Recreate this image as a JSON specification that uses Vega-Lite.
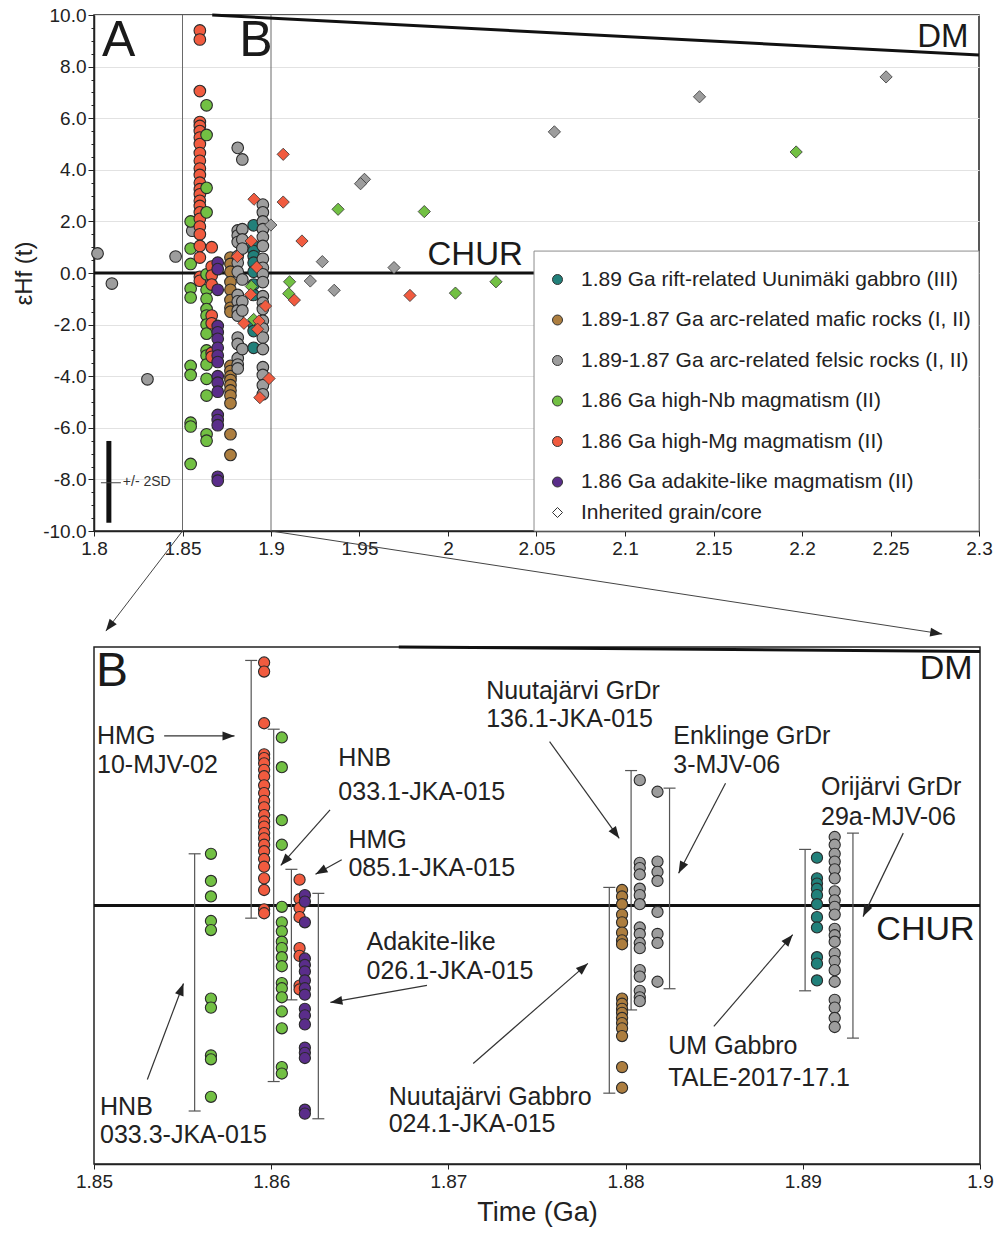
{
  "$schema": "https://vega.github.io/schema/vega-lite/v6.json",
  "padding": {"left": 11, "top": 5, "right": 5, "bottom": 5},
  "config": {
    "font": "Liberation Sans",
    "view": {"stroke": "#222", "strokeWidth": 1.5},
    "axis": {"domainColor": "#222", "domainWidth": 1.5, "tickColor": "#222", "labelColor": "#222", "titleColor": "#222", "titleFontWeight": "normal", "gridColor": "#e2e2e2", "labelFlush": false, "labelOverlap": false},
    "legend": {"symbolBaseFillColor": "white"}
  },
  "datasets": {
    "pos": [
      {"s": "s1", "g": "1.86 Ga high-Nb magmatism (II)", "xa": 1.8546, "xb": 1.8566},
      {"s": "s2", "g": "1.86 Ga high-Mg magmatism (II)", "xa": 1.8598, "xb": 1.8596},
      {"s": "s3", "g": "1.86 Ga high-Nb magmatism (II)", "xa": 1.8636, "xb": 1.8606},
      {"s": "s4", "g": "1.86 Ga high-Mg magmatism (II)", "xa": 1.8665, "xb": 1.8616},
      {"s": "s5", "g": "1.86 Ga adakite-like magmatism (II)", "xa": 1.8699, "xb": 1.8619},
      {"s": "s6", "g": "1.89-1.87 Ga arc-related mafic rocks (I, II)", "xa": 1.8771, "xb": 1.8798},
      {"s": "s7", "g": "1.89-1.87 Ga arc-related felsic rocks (I, II)", "xa": 1.8812, "xb": 1.8808},
      {"s": "s8", "g": "1.89-1.87 Ga arc-related felsic rocks (I, II)", "xa": 1.8838, "xb": 1.8818},
      {"s": "s9", "g": "1.89 Ga rift-related Uunimäki gabbro (III)", "xa": 1.8902, "xb": 1.8908},
      {"s": "s10", "g": "1.89-1.87 Ga arc-related felsic rocks (I, II)", "xa": 1.8954, "xb": 1.8918}
    ],
    "hf": [
      {"s": "s1", "y": 2.0}, {"s": "s1", "y": 0.95}, {"s": "s1", "y": 0.35}, {"s": "s1", "y": -0.6}, {"s": "s1", "y": -0.95}, {"s": "s1", "y": -3.6}, {"s": "s1", "y": -3.95}, {"s": "s1", "y": -5.8}, {"s": "s1", "y": -5.95}, {"s": "s1", "y": -7.4},
      {"s": "s2", "y": 9.4}, {"s": "s2", "y": 9.05}, {"s": "s2", "y": 7.05}, {"s": "s2", "y": 5.85}, {"s": "s2", "y": 5.7}, {"s": "s2", "y": 5.5}, {"s": "s2", "y": 5.25}, {"s": "s2", "y": 5.0}, {"s": "s2", "y": 4.65}, {"s": "s2", "y": 4.35}, {"s": "s2", "y": 4.05}, {"s": "s2", "y": 3.8}, {"s": "s2", "y": 3.5}, {"s": "s2", "y": 3.25}, {"s": "s2", "y": 3.05}, {"s": "s2", "y": 2.8}, {"s": "s2", "y": 2.6}, {"s": "s2", "y": 2.35}, {"s": "s2", "y": 2.1}, {"s": "s2", "y": 1.8}, {"s": "s2", "y": 1.5}, {"s": "s2", "y": 1.05}, {"s": "s2", "y": 0.6}, {"s": "s2", "y": -0.15}, {"s": "s2", "y": -0.3},
      {"s": "s3", "y": 6.5}, {"s": "s3", "y": 5.35}, {"s": "s3", "y": 3.3}, {"s": "s3", "y": 2.35}, {"s": "s3", "y": -0.05}, {"s": "s3", "y": -0.65}, {"s": "s3", "y": -1.0}, {"s": "s3", "y": -1.4}, {"s": "s3", "y": -1.65}, {"s": "s3", "y": -2.0}, {"s": "s3", "y": -2.35}, {"s": "s3", "y": -3.0}, {"s": "s3", "y": -3.2}, {"s": "s3", "y": -3.55}, {"s": "s3", "y": -4.1}, {"s": "s3", "y": -4.75}, {"s": "s3", "y": -6.25}, {"s": "s3", "y": -6.5},
      {"s": "s4", "y": 1.0}, {"s": "s4", "y": 0.25}, {"s": "s4", "y": -0.1}, {"s": "s4", "y": -0.45}, {"s": "s4", "y": -1.65}, {"s": "s4", "y": -1.95}, {"s": "s4", "y": -3.1}, {"s": "s4", "y": -3.25},
      {"s": "s5", "y": 0.4}, {"s": "s5", "y": 0.15}, {"s": "s5", "y": -0.65}, {"s": "s5", "y": -2.05}, {"s": "s5", "y": -2.3}, {"s": "s5", "y": -2.55}, {"s": "s5", "y": -2.9}, {"s": "s5", "y": -3.2}, {"s": "s5", "y": -3.45}, {"s": "s5", "y": -4.0}, {"s": "s5", "y": -4.25}, {"s": "s5", "y": -4.6}, {"s": "s5", "y": -5.5}, {"s": "s5", "y": -5.7}, {"s": "s5", "y": -5.9}, {"s": "s5", "y": -7.9}, {"s": "s5", "y": -8.05},
      {"s": "s6", "y": 0.6}, {"s": "s6", "y": 0.35}, {"s": "s6", "y": 0.05}, {"s": "s6", "y": -0.35}, {"s": "s6", "y": -0.65}, {"s": "s6", "y": -1.05}, {"s": "s6", "y": -1.35}, {"s": "s6", "y": -1.5}, {"s": "s6", "y": -3.6}, {"s": "s6", "y": -3.8}, {"s": "s6", "y": -4.0}, {"s": "s6", "y": -4.15}, {"s": "s6", "y": -4.35}, {"s": "s6", "y": -4.55}, {"s": "s6", "y": -4.75}, {"s": "s6", "y": -5.05}, {"s": "s6", "y": -6.25}, {"s": "s6", "y": -7.05},
      {"s": "s7", "y": 4.85}, {"s": "s7", "y": 1.65}, {"s": "s7", "y": 1.45}, {"s": "s7", "y": 1.2}, {"s": "s7", "y": 0.65}, {"s": "s7", "y": 0.4}, {"s": "s7", "y": 0.05}, {"s": "s7", "y": -0.85}, {"s": "s7", "y": -1.1}, {"s": "s7", "y": -1.45}, {"s": "s7", "y": -1.65}, {"s": "s7", "y": -2.5}, {"s": "s7", "y": -2.75}, {"s": "s7", "y": -3.3}, {"s": "s7", "y": -3.55}, {"s": "s7", "y": -3.7},
      {"s": "s8", "y": 4.4}, {"s": "s8", "y": 1.7}, {"s": "s8", "y": 1.3}, {"s": "s8", "y": 0.95}, {"s": "s8", "y": -0.25}, {"s": "s8", "y": -1.1}, {"s": "s8", "y": -1.45}, {"s": "s8", "y": -2.95},
      {"s": "s9", "y": 1.85}, {"s": "s9", "y": 1.05}, {"s": "s9", "y": 0.85}, {"s": "s9", "y": 0.65}, {"s": "s9", "y": 0.4}, {"s": "s9", "y": 0.05}, {"s": "s9", "y": -0.45}, {"s": "s9", "y": -0.85}, {"s": "s9", "y": -2.0}, {"s": "s9", "y": -2.25}, {"s": "s9", "y": -2.9},
      {"s": "s10", "y": 2.65}, {"s": "s10", "y": 2.35}, {"s": "s10", "y": 2.0}, {"s": "s10", "y": 1.7}, {"s": "s10", "y": 1.4}, {"s": "s10", "y": 1.05}, {"s": "s10", "y": 0.55}, {"s": "s10", "y": 0.2}, {"s": "s10", "y": -0.05}, {"s": "s10", "y": -0.35}, {"s": "s10", "y": -0.9}, {"s": "s10", "y": -1.15}, {"s": "s10", "y": -1.4}, {"s": "s10", "y": -1.85}, {"s": "s10", "y": -2.15}, {"s": "s10", "y": -2.5}, {"s": "s10", "y": -2.95}, {"s": "s10", "y": -3.65}, {"s": "s10", "y": -3.95}, {"s": "s10", "y": -4.35}, {"s": "s10", "y": -4.7}
    ],
    "extraA": [
      {"x": 1.802, "y": 0.76, "g": "1.89-1.87 Ga arc-related felsic rocks (I, II)"},
      {"x": 1.8101, "y": -0.41, "g": "1.89-1.87 Ga arc-related felsic rocks (I, II)"},
      {"x": 1.8302, "y": -4.12, "g": "1.89-1.87 Ga arc-related felsic rocks (I, II)"},
      {"x": 1.8461, "y": 0.64, "g": "1.89-1.87 Ga arc-related felsic rocks (I, II)"},
      {"x": 1.8555, "y": 1.64, "g": "1.89-1.87 Ga arc-related felsic rocks (I, II)"}
    ],
    "inh": [
      {"x": 2.2475, "y": 7.6, "g": "1.89-1.87 Ga arc-related felsic rocks (I, II)"},
      {"x": 2.1421, "y": 6.83, "g": "1.89-1.87 Ga arc-related felsic rocks (I, II)"},
      {"x": 2.0601, "y": 5.47, "g": "1.89-1.87 Ga arc-related felsic rocks (I, II)"},
      {"x": 1.9528, "y": 3.63, "g": "1.89-1.87 Ga arc-related felsic rocks (I, II)"},
      {"x": 1.9506, "y": 3.46, "g": "1.89-1.87 Ga arc-related felsic rocks (I, II)"},
      {"x": 1.8999, "y": 1.86, "g": "1.89-1.87 Ga arc-related felsic rocks (I, II)"},
      {"x": 1.929, "y": 0.44, "g": "1.89-1.87 Ga arc-related felsic rocks (I, II)"},
      {"x": 1.9695, "y": 0.21, "g": "1.89-1.87 Ga arc-related felsic rocks (I, II)"},
      {"x": 1.9222, "y": -0.31, "g": "1.89-1.87 Ga arc-related felsic rocks (I, II)"},
      {"x": 1.9357, "y": -0.67, "g": "1.89-1.87 Ga arc-related felsic rocks (I, II)"},
      {"x": 2.1967, "y": 4.69, "g": "1.86 Ga high-Nb magmatism (II)"},
      {"x": 1.9379, "y": 2.47, "g": "1.86 Ga high-Nb magmatism (II)"},
      {"x": 1.9866, "y": 2.38, "g": "1.86 Ga high-Nb magmatism (II)"},
      {"x": 2.0271, "y": -0.34, "g": "1.86 Ga high-Nb magmatism (II)"},
      {"x": 2.0042, "y": -0.78, "g": "1.86 Ga high-Nb magmatism (II)"},
      {"x": 1.9105, "y": -0.34, "g": "1.86 Ga high-Nb magmatism (II)"},
      {"x": 1.91, "y": -0.8, "g": "1.86 Ga high-Nb magmatism (II)"},
      {"x": 1.8889, "y": -0.52, "g": "1.86 Ga high-Nb magmatism (II)"},
      {"x": 1.8902, "y": -1.8, "g": "1.86 Ga high-Nb magmatism (II)"},
      {"x": 1.9069, "y": 4.6, "g": "1.86 Ga high-Mg magmatism (II)"},
      {"x": 1.9069, "y": 2.75, "g": "1.86 Ga high-Mg magmatism (II)"},
      {"x": 1.9175, "y": 1.24, "g": "1.86 Ga high-Mg magmatism (II)"},
      {"x": 1.9785, "y": -0.87, "g": "1.86 Ga high-Mg magmatism (II)"},
      {"x": 1.9132, "y": -1.05, "g": "1.86 Ga high-Mg magmatism (II)"},
      {"x": 1.8904, "y": 2.86, "g": "1.86 Ga high-Mg magmatism (II)"},
      {"x": 1.8888, "y": 1.24, "g": "1.86 Ga high-Mg magmatism (II)"},
      {"x": 1.881, "y": 0.64, "g": "1.86 Ga high-Mg magmatism (II)"},
      {"x": 1.8919, "y": 0.23, "g": "1.86 Ga high-Mg magmatism (II)"},
      {"x": 1.8885, "y": -0.83, "g": "1.86 Ga high-Mg magmatism (II)"},
      {"x": 1.8969, "y": -1.28, "g": "1.86 Ga high-Mg magmatism (II)"},
      {"x": 1.8847, "y": -1.95, "g": "1.86 Ga high-Mg magmatism (II)"},
      {"x": 1.8932, "y": -1.86, "g": "1.86 Ga high-Mg magmatism (II)"},
      {"x": 1.8924, "y": -2.18, "g": "1.86 Ga high-Mg magmatism (II)"},
      {"x": 1.8989, "y": -4.09, "g": "1.86 Ga high-Mg magmatism (II)"},
      {"x": 1.8937, "y": -4.83, "g": "1.86 Ga high-Mg magmatism (II)"}
    ],
    "vlines": [{"x": 1.85, "y": -10, "y2": 10}, {"x": 1.9, "y": -10, "y2": 10}],
    "thickA": [{"x": 1.8, "y": 0, "x2": 2.3, "y2": 0}, {"x": 1.8668, "y": 10, "x2": 2.3, "y2": 8.45}],
    "box": [{"x": 2.0486, "y": 0.85, "x2": 2.3, "y2": -10}],
    "sdbar": [{"x": 1.8084, "y": -6.51, "y2": -9.68}],
    "thinA": [
      {"x": 1.8039, "y": -8.13, "x2": 1.8152, "y2": -8.13},
      {"x": 1.85, "y": -10, "x2": 1.8067, "y2": -13.88},
      {"x": 1.9, "y": -10, "x2": 2.2792, "y2": -13.99}
    ],
    "headA": [{"id": "h1", "x": 1.8067, "y": -13.88}, {"id": "h2", "x": 2.2792, "y": -13.99}],
    "txtA": [
      {"c": "big", "t": "A", "x": 1.8045, "y": 8.99},
      {"c": "big", "t": "B", "x": 1.8821, "y": 8.99},
      {"c": "mid", "t": "DM", "x": 2.2651, "y": 9.15},
      {"c": "mid", "t": "CHUR", "x": 1.9884, "y": 0.7},
      {"c": "small", "t": "+/- 2SD", "x": 1.8163, "y": -8.1}
    ],
    "thickB": [{"x": 1.85, "y": 0, "x2": 1.9, "y2": 0}, {"x": 1.8672, "y": 10, "x2": 1.9, "y2": 9.83}],
    "errB": [
      {"x": 1.85568, "y": 2.0, "y2": -7.95},
      {"x": 1.85887, "y": 9.48, "y2": -0.49},
      {"x": 1.86014, "y": 6.82, "y2": -6.81},
      {"x": 1.86114, "y": 1.4, "y2": -3.65},
      {"x": 1.86266, "y": 0.47, "y2": -8.25},
      {"x": 1.87908, "y": 0.7, "y2": -7.26},
      {"x": 1.88031, "y": 5.22, "y2": -4.04},
      {"x": 1.88248, "y": 4.54, "y2": -3.22},
      {"x": 1.89013, "y": 2.17, "y2": -3.3},
      {"x": 1.89283, "y": 2.8, "y2": -5.13}
    ],
    "arrB": [
      {"id": "a1", "x0": 1.85396, "y0": 6.56, "x": 1.85793, "y": 6.56},
      {"id": "a2", "x0": 1.86332, "y0": 3.7, "x": 1.86054, "y": 1.55},
      {"id": "a3", "x0": 1.86398, "y0": 1.77, "x": 1.8625, "y": 1.21},
      {"id": "a4", "x0": 1.86879, "y0": -3.09, "x": 1.86334, "y": -3.75},
      {"id": "a5", "x0": 1.85301, "y0": -6.73, "x": 1.85505, "y": -3.02},
      {"id": "a6", "x0": 1.87571, "y0": 6.34, "x": 1.87964, "y": 2.6},
      {"id": "a7", "x0": 1.88564, "y0": 4.73, "x": 1.88299, "y": 1.25},
      {"id": "a8", "x0": 1.89567, "y0": 2.8, "x": 1.8934, "y": -0.43},
      {"id": "a9", "x0": 1.88498, "y0": -4.68, "x": 1.88943, "y": -1.13},
      {"id": "a10", "x0": 1.8714, "y0": -6.11, "x": 1.87787, "y": -2.24}
    ],
    "txtB": [
      {"c": "big", "t": "B", "x": 1.85011, "y": 9.05},
      {"c": "mid", "t": "DM", "x": 1.8966, "y": 9.13},
      {"c": "mid", "t": "CHUR", "x": 1.89415, "y": -0.93},
      {"c": "note", "t": "HMG", "x": 1.85017, "y": 6.56},
      {"c": "note", "t": "10-MJV-02", "x": 1.85017, "y": 5.42},
      {"c": "note", "t": "HNB", "x": 1.86379, "y": 5.69},
      {"c": "note", "t": "033.1-JKA-015", "x": 1.86379, "y": 4.41},
      {"c": "note", "t": "HMG", "x": 1.86436, "y": 2.55},
      {"c": "note", "t": "085.1-JKA-015", "x": 1.86436, "y": 1.47},
      {"c": "note", "t": "Adakite-like", "x": 1.86538, "y": -1.43},
      {"c": "note", "t": "026.1-JKA-015", "x": 1.86538, "y": -2.55},
      {"c": "note", "t": "HNB", "x": 1.85034, "y": -7.78},
      {"c": "note", "t": "033.3-JKA-015", "x": 1.85034, "y": -8.86},
      {"c": "note", "t": "Nuutajärvi GrDr", "x": 1.87213, "y": 8.28},
      {"c": "note", "t": "136.1-JKA-015", "x": 1.87213, "y": 7.2},
      {"c": "note", "t": "Enklinge GrDr", "x": 1.88269, "y": 6.54},
      {"c": "note", "t": "3-MJV-06", "x": 1.88269, "y": 5.45},
      {"c": "note", "t": "Orijärvi GrDr", "x": 1.89103, "y": 4.6},
      {"c": "note", "t": "29a-MJV-06", "x": 1.89103, "y": 3.44},
      {"c": "note", "t": "UM Gabbro", "x": 1.88241, "y": -5.45},
      {"c": "note", "t": "TALE-2017-17.1", "x": 1.88241, "y": -6.69},
      {"c": "note", "t": "Nuutajärvi Gabbro", "x": 1.86663, "y": -7.39},
      {"c": "note", "t": "024.1-JKA-015", "x": 1.86663, "y": -8.47}
    ]
  },
  "vconcat": [
    {
      "width": 885,
      "height": 516,
      "encoding": {
        "x": {"field": "x", "type": "quantitative", "scale": {"domain": [1.8, 2.3], "nice": false, "zero": false}, "axis": {"values": [1.8, 1.85, 1.9, 1.95, 2, 2.05, 2.1, 2.15, 2.2, 2.25, 2.3], "format": "~g", "title": null, "labelFontSize": 19, "tickSize": 5, "grid": false, "labelPadding": 3}},
        "y": {"field": "y", "type": "quantitative", "scale": {"domain": [-10, 10], "nice": false, "zero": false}, "axis": {"title": "εHf (t)", "titleFontSize": 24, "titlePadding": 6, "labelFontSize": 19, "labelPadding": 2, "values": [-10, -9.5, -9, -8.5, -8, -7.5, -7, -6.5, -6, -5.5, -5, -4.5, -4, -3.5, -3, -2.5, -2, -1.5, -1, -0.5, 0, 0.5, 1, 1.5, 2, 2.5, 3, 3.5, 4, 4.5, 5, 5.5, 6, 6.5, 7, 7.5, 8, 8.5, 9, 9.5, 10], "labelExpr": "datum.value % 2 === 0 ? replace(format(datum.value, '.1f'), '−', '-') : ''", "tickSize": {"condition": {"test": "datum.value % 2 === 0", "value": 6}, "value": 3}, "grid": true, "gridOpacity": {"condition": {"test": "datum.value % 2 === 0", "value": 1}, "value": 0}}}
      },
      "layer": [
        {"data": {"name": "vlines"}, "mark": {"type": "rule", "color": "#6a6a6a", "strokeWidth": 1}, "encoding": {"y2": {"field": "y2"}}},
        {"data": {"name": "thickA"}, "mark": {"type": "rule", "color": "#111", "strokeWidth": 3}, "encoding": {"x2": {"field": "x2"}, "y2": {"field": "y2"}}},
        {"data": {"name": "box"}, "mark": {"type": "rect", "fill": "white", "stroke": "#8c8c8c", "strokeWidth": 1}, "encoding": {"x2": {"field": "x2"}, "y2": {"field": "y2"}}},
        {"data": {"name": "extraA"}, "mark": {"type": "point", "shape": "circle", "filled": true, "size": 135, "stroke": "#2a2a2a", "strokeWidth": 1.1, "opacity": 1},
          "encoding": {"fill": {"field": "g", "type": "nominal", "scale": {"domain": ["1.89 Ga rift-related Uunimäki gabbro (III)", "1.89-1.87 Ga arc-related mafic rocks (I, II)", "1.89-1.87 Ga arc-related felsic rocks (I, II)", "1.86 Ga high-Nb magmatism (II)", "1.86 Ga high-Mg magmatism (II)", "1.86 Ga adakite-like magmatism (II)"], "range": ["#21807a", "#ad7e3f", "#9d9d9d", "#72c043", "#f15b3f", "#5a2d8a"]}, "legend": {"orient": "none", "legendX": 453, "legendY": 254, "title": null, "labelFontSize": 21, "labelColor": "#222", "labelLimit": 600, "symbolType": "circle", "symbolSize": 100, "symbolStrokeColor": "#333", "symbolStrokeWidth": 1, "rowPadding": 18.5, "labelOffset": 13, "padding": 0}}}},
        {"data": {"name": "hf"}, "transform": [{"lookup": "s", "from": {"data": {"name": "pos"}, "key": "s", "fields": ["g", "xa"]}, "as": ["g", "x"]}],
          "mark": {"type": "point", "shape": "circle", "filled": true, "size": 135, "stroke": "#2a2a2a", "strokeWidth": 1.1, "opacity": 1},
          "encoding": {"fill": {"field": "g", "type": "nominal", "scale": {"domain": ["1.89 Ga rift-related Uunimäki gabbro (III)", "1.89-1.87 Ga arc-related mafic rocks (I, II)", "1.89-1.87 Ga arc-related felsic rocks (I, II)", "1.86 Ga high-Nb magmatism (II)", "1.86 Ga high-Mg magmatism (II)", "1.86 Ga adakite-like magmatism (II)"], "range": ["#21807a", "#ad7e3f", "#9d9d9d", "#72c043", "#f15b3f", "#5a2d8a"]}, "legend": {"orient": "none", "legendX": 453, "legendY": 254, "title": null, "labelFontSize": 21, "labelColor": "#222", "labelLimit": 600, "symbolType": "circle", "symbolSize": 100, "symbolStrokeColor": "#333", "symbolStrokeWidth": 1, "rowPadding": 18.5, "labelOffset": 13, "padding": 0}}}},
        {"data": {"name": "inh"}, "mark": {"type": "point", "filled": true, "size": 150, "stroke": "#333", "strokeWidth": 0.8, "opacity": 1},
          "encoding": {
            "fill": {"field": "g", "type": "nominal", "scale": {"domain": ["1.89 Ga rift-related Uunimäki gabbro (III)", "1.89-1.87 Ga arc-related mafic rocks (I, II)", "1.89-1.87 Ga arc-related felsic rocks (I, II)", "1.86 Ga high-Nb magmatism (II)", "1.86 Ga high-Mg magmatism (II)", "1.86 Ga adakite-like magmatism (II)"], "range": ["#21807a", "#ad7e3f", "#9d9d9d", "#72c043", "#f15b3f", "#5a2d8a"]}, "legend": {"orient": "none", "legendX": 453, "legendY": 254, "title": null, "labelFontSize": 21, "labelColor": "#222", "labelLimit": 600, "symbolType": "circle", "symbolSize": 100, "symbolStrokeColor": "#333", "symbolStrokeWidth": 1, "rowPadding": 18.5, "labelOffset": 13, "padding": 0}},
            "shape": {"datum": "Inherited grain/core", "type": "nominal", "scale": {"domain": ["Inherited grain/core"], "range": ["diamond"]}, "legend": {"orient": "none", "legendX": 453, "legendY": 487, "title": null, "labelFontSize": 21, "labelColor": "#222", "labelLimit": 600, "symbolSize": 100, "symbolFillColor": "white", "symbolStrokeColor": "#333", "symbolStrokeWidth": 1, "labelOffset": 13, "padding": 0}}
          }},
        {"data": {"name": "sdbar"}, "mark": {"type": "rule", "color": "#111", "strokeWidth": 5}, "encoding": {"y2": {"field": "y2"}}},
        {"data": {"name": "thinA"}, "mark": {"type": "rule", "color": "#444", "strokeWidth": 1, "clip": false}, "encoding": {"x2": {"field": "x2"}, "y2": {"field": "y2"}}},
        {"data": {"name": "headA"}, "transform": [{"filter": "datum.id === 'h1'"}], "mark": {"type": "point", "shape": "M0,0L-0.375,1L0.375,1Z", "filled": true, "color": "#222", "size": 576, "angle": 217.6, "opacity": 1, "clip": false}},
        {"data": {"name": "headA"}, "transform": [{"filter": "datum.id === 'h2'"}], "mark": {"type": "point", "shape": "M0,0L-0.375,1L0.375,1Z", "filled": true, "color": "#222", "size": 576, "angle": 98.6, "opacity": 1, "clip": false}},
        {"data": {"name": "txtA"}, "transform": [{"filter": "datum.c === 'big'"}], "mark": {"type": "text", "fontSize": 50, "align": "left", "baseline": "middle", "color": "#1a1a1a"}, "encoding": {"text": {"field": "t"}}},
        {"data": {"name": "txtA"}, "transform": [{"filter": "datum.c === 'mid'"}], "mark": {"type": "text", "fontSize": 33, "align": "left", "baseline": "middle", "color": "#1a1a1a"}, "encoding": {"text": {"field": "t"}}},
        {"data": {"name": "txtA"}, "transform": [{"filter": "datum.c === 'small'"}], "mark": {"type": "text", "fontSize": 14, "align": "left", "baseline": "middle", "color": "#333"}, "encoding": {"text": {"field": "t"}}}
      ]
    },
    {
      "width": 886,
      "height": 517,
      "encoding": {
        "x": {"field": "x", "type": "quantitative", "scale": {"domain": [1.85, 1.9], "nice": false, "zero": false}, "axis": {"values": [1.85, 1.86, 1.87, 1.88, 1.89, 1.9], "format": "~g", "title": "Time (Ga)", "titleFontSize": 27, "titlePadding": 8, "labelFontSize": 19, "tickSize": 5, "grid": false, "labelPadding": 3}},
        "y": {"field": "y", "type": "quantitative", "scale": {"domain": [-10, 10], "nice": false, "zero": false}, "axis": {"title": "εHf (t)", "titleFontSize": 24, "titlePadding": 6, "labelFontSize": 19, "labelPadding": 2, "values": [-10, -9.5, -9, -8.5, -8, -7.5, -7, -6.5, -6, -5.5, -5, -4.5, -4, -3.5, -3, -2.5, -2, -1.5, -1, -0.5, 0, 0.5, 1, 1.5, 2, 2.5, 3, 3.5, 4, 4.5, 5, 5.5, 6, 6.5, 7, 7.5, 8, 8.5, 9, 9.5, 10], "labelExpr": "datum.value % 2 === 0 ? replace(format(datum.value, '.1f'), '−', '-') : ''", "tickSize": {"condition": {"test": "datum.value % 2 === 0", "value": 6}, "value": 3}, "grid": true, "gridOpacity": {"condition": {"test": "datum.value % 2 === 0", "value": 1}, "value": 0}}}
      },
      "layer": [
        {"data": {"name": "thickB"}, "mark": {"type": "rule", "color": "#111", "strokeWidth": 3}, "encoding": {"x2": {"field": "x2"}, "y2": {"field": "y2"}}},
        {"data": {"name": "errB"}, "mark": {"type": "rule", "color": "#555", "strokeWidth": 1.2}, "encoding": {"y2": {"field": "y2"}}},
        {"data": {"name": "errB"}, "mark": {"type": "tick", "orient": "horizontal", "size": 12, "thickness": 1.2, "color": "#555", "opacity": 1}},
        {"data": {"name": "errB"}, "mark": {"type": "tick", "orient": "horizontal", "size": 12, "thickness": 1.2, "color": "#555", "opacity": 1}, "encoding": {"y": {"field": "y2", "type": "quantitative", "scale": {"domain": [-10, 10], "nice": false, "zero": false}, "axis": null}}},
        {"data": {"name": "hf"}, "transform": [{"lookup": "s", "from": {"data": {"name": "pos"}, "key": "s", "fields": ["g", "xb"]}, "as": ["g", "x"]}],
          "mark": {"type": "point", "shape": "circle", "filled": true, "size": 125, "stroke": "#2a2a2a", "strokeWidth": 1.1, "opacity": 1},
          "encoding": {"fill": {"field": "g", "type": "nominal", "scale": {"domain": ["1.89 Ga rift-related Uunimäki gabbro (III)", "1.89-1.87 Ga arc-related mafic rocks (I, II)", "1.89-1.87 Ga arc-related felsic rocks (I, II)", "1.86 Ga high-Nb magmatism (II)", "1.86 Ga high-Mg magmatism (II)", "1.86 Ga adakite-like magmatism (II)"], "range": ["#21807a", "#ad7e3f", "#9d9d9d", "#72c043", "#f15b3f", "#5a2d8a"]}, "legend": null}}},
        {"data": {"name": "arrB"}, "mark": {"type": "rule", "color": "#333", "strokeWidth": 1.2}, "encoding": {"x2": {"field": "x0"}, "y2": {"field": "y0"}}},
        {"data": {"name": "arrB"}, "transform": [{"filter": "datum.id === 'a1'"}], "mark": {"type": "point", "shape": "M0,0L-0.375,1L0.375,1Z", "filled": true, "color": "#222", "size": 576, "angle": 90, "opacity": 1}},
        {"data": {"name": "arrB"}, "transform": [{"filter": "datum.id === 'a2'"}], "mark": {"type": "point", "shape": "M0,0L-0.375,1L0.375,1Z", "filled": true, "color": "#222", "size": 576, "angle": 221.3, "opacity": 1}},
        {"data": {"name": "arrB"}, "transform": [{"filter": "datum.id === 'a3'"}], "mark": {"type": "point", "shape": "M0,0L-0.375,1L0.375,1Z", "filled": true, "color": "#222", "size": 576, "angle": 241, "opacity": 1}},
        {"data": {"name": "arrB"}, "transform": [{"filter": "datum.id === 'a4'"}], "mark": {"type": "point", "shape": "M0,0L-0.375,1L0.375,1Z", "filled": true, "color": "#222", "size": 576, "angle": 260, "opacity": 1}},
        {"data": {"name": "arrB"}, "transform": [{"filter": "datum.id === 'a5'"}], "mark": {"type": "point", "shape": "M0,0L-0.375,1L0.375,1Z", "filled": true, "color": "#222", "size": 576, "angle": 20.6, "opacity": 1}},
        {"data": {"name": "arrB"}, "transform": [{"filter": "datum.id === 'a6'"}], "mark": {"type": "point", "shape": "M0,0L-0.375,1L0.375,1Z", "filled": true, "color": "#222", "size": 576, "angle": 144.4, "opacity": 1}},
        {"data": {"name": "arrB"}, "transform": [{"filter": "datum.id === 'a7'"}], "mark": {"type": "point", "shape": "M0,0L-0.375,1L0.375,1Z", "filled": true, "color": "#222", "size": 576, "angle": 207.4, "opacity": 1}},
        {"data": {"name": "arrB"}, "transform": [{"filter": "datum.id === 'a8'"}], "mark": {"type": "point", "shape": "M0,0L-0.375,1L0.375,1Z", "filled": true, "color": "#222", "size": 576, "angle": 205.6, "opacity": 1}},
        {"data": {"name": "arrB"}, "transform": [{"filter": "datum.id === 'a9'"}], "mark": {"type": "point", "shape": "M0,0L-0.375,1L0.375,1Z", "filled": true, "color": "#222", "size": 576, "angle": 40.5, "opacity": 1}},
        {"data": {"name": "arrB"}, "transform": [{"filter": "datum.id === 'a10'"}], "mark": {"type": "point", "shape": "M0,0L-0.375,1L0.375,1Z", "filled": true, "color": "#222", "size": 576, "angle": 48.7, "opacity": 1}},
        {"data": {"name": "txtB"}, "transform": [{"filter": "datum.c === 'big'"}], "mark": {"type": "text", "fontSize": 48, "align": "left", "baseline": "middle", "color": "#1a1a1a"}, "encoding": {"text": {"field": "t"}}},
        {"data": {"name": "txtB"}, "transform": [{"filter": "datum.c === 'mid'"}], "mark": {"type": "text", "fontSize": 34, "align": "left", "baseline": "middle", "color": "#1a1a1a"}, "encoding": {"text": {"field": "t"}}},
        {"data": {"name": "txtB"}, "transform": [{"filter": "datum.c === 'note'"}], "mark": {"type": "text", "fontSize": 25, "align": "left", "baseline": "middle", "color": "#222"}, "encoding": {"text": {"field": "t"}}}
      ]
    }
  ],
  "spacing": 116,
  "bounds": "flush",
  "resolve": {"scale": {"fill": "independent", "shape": "independent"}, "legend": {"fill": "independent", "shape": "independent"}}
}
